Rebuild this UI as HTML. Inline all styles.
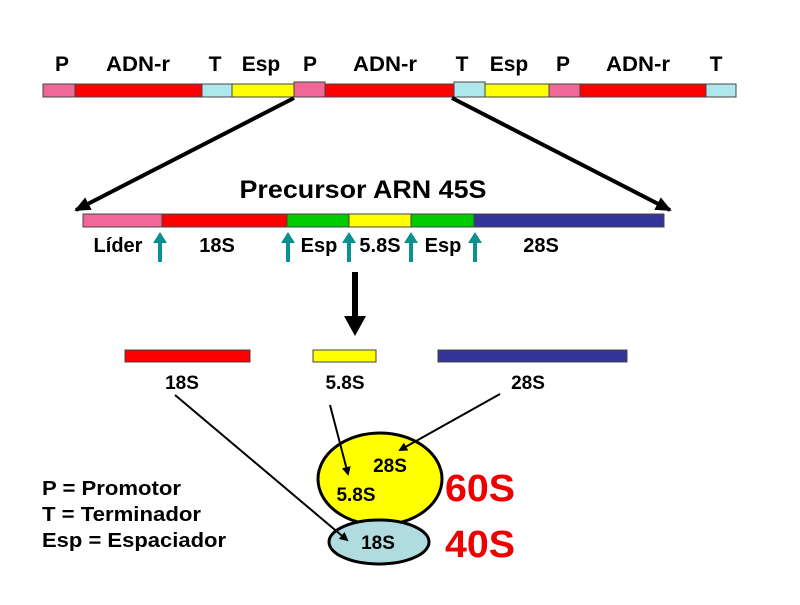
<!DOCTYPE html>
<html><head><style>body{margin:0;background:#fff}svg text{font-family:"Liberation Sans",Arial,sans-serif;font-weight:bold}</style></head><body>
<svg width="800" height="600" viewBox="0 0 800 600">
<defs><marker id="ah" markerWidth="9" markerHeight="9" refX="7" refY="4.5" orient="auto" markerUnits="userSpaceOnUse"><path d="M0,0 L9,4.5 L0,9 Z" fill="#000"/></marker>
<marker id="bh" markerWidth="16" markerHeight="14" refX="14" refY="7" orient="auto" markerUnits="userSpaceOnUse"><path d="M0,0 L16,7 L0,14 Z" fill="#000"/></marker></defs>
<g font-size="21" text-anchor="middle">
<text x="62" y="71">P</text><text x="138" y="71" textLength="64" lengthAdjust="spacingAndGlyphs">ADN-r</text><text x="215" y="71">T</text><text x="261" y="71">Esp</text>
<text x="310" y="71">P</text><text x="385" y="71" textLength="64" lengthAdjust="spacingAndGlyphs">ADN-r</text><text x="462" y="71">T</text><text x="509" y="71">Esp</text>
<text x="563" y="71">P</text><text x="638" y="71" textLength="64" lengthAdjust="spacingAndGlyphs">ADN-r</text><text x="716" y="71">T</text></g>
<g stroke="#444" stroke-width="1">
<rect x="43" y="84" width="32" height="13" fill="#f06898"/><rect x="75" y="84" width="127" height="13" fill="#f00"/><rect x="202" y="84" width="30" height="13" fill="#aee8ee"/><rect x="232" y="84" width="62" height="13" fill="#ff0"/>
<rect x="294" y="82" width="31" height="15" fill="#f06898"/><rect x="325" y="84" width="129" height="13" fill="#f00"/><rect x="454" y="82" width="31" height="15" fill="#aee8ee"/><rect x="485" y="84" width="64" height="13" fill="#ff0"/>
<rect x="549" y="84" width="31" height="13" fill="#f06898"/><rect x="580" y="84" width="126" height="13" fill="#f00"/><rect x="706" y="84" width="30" height="13" fill="#aee8ee"/></g>
<line x1="294" y1="98" x2="76" y2="210" stroke="#000" stroke-width="4" marker-end="url(#bh)"/>
<line x1="452" y1="98" x2="670" y2="210" stroke="#000" stroke-width="4" marker-end="url(#bh)"/>
<text x="363" y="198" font-size="25" text-anchor="middle" textLength="247" lengthAdjust="spacingAndGlyphs">Precursor ARN 45S</text>
<g stroke="#444" stroke-width="1">
<rect x="83" y="214" width="79" height="13" fill="#f06898"/><rect x="162" y="214" width="125" height="13" fill="#f00"/><rect x="287" y="214" width="62" height="13" fill="#0c0"/><rect x="349" y="214" width="62" height="13" fill="#ff0"/><rect x="411" y="214" width="63" height="13" fill="#0c0"/><rect x="474" y="214" width="190" height="13" fill="#333399"/></g>
<g fill="#0a9090">
<path d="M160,232 l-7,11 h5 v19 h4 v-19 h5z"/><path d="M288,232 l-7,11 h5 v19 h4 v-19 h5z"/><path d="M349,232 l-7,11 h5 v19 h4 v-19 h5z"/><path d="M411,232 l-7,11 h5 v19 h4 v-19 h5z"/><path d="M475,232 l-7,11 h5 v19 h4 v-19 h5z"/></g>
<g font-size="20" text-anchor="middle">
<text x="118" y="252">Líder</text><text x="217" y="252">18S</text><text x="319" y="252">Esp</text><text x="380" y="252">5.8S</text><text x="443" y="252">Esp</text><text x="541" y="252">28S</text></g>
<path d="M352,272 h6 v44 h8 l-11,20 l-11,-20 h8z" fill="#000"/>
<g stroke="#444" stroke-width="1"><rect x="125" y="350" width="125" height="12" fill="#f00"/><rect x="313" y="350" width="63" height="12" fill="#ff0"/><rect x="438" y="350" width="189" height="12" fill="#333399"/></g>
<g font-size="19" text-anchor="middle"><text x="182" y="389">18S</text><text x="345" y="389">5.8S</text><text x="528" y="389">28S</text></g>
<ellipse cx="380" cy="479" rx="62" ry="46" fill="#ff0" stroke="#000" stroke-width="3"/>
<ellipse cx="379" cy="542" rx="50" ry="22" fill="#b0dce0" stroke="#000" stroke-width="3"/>
<g font-size="19" text-anchor="middle"><text x="390" y="472">28S</text><text x="356" y="501">5.8S</text><text x="378" y="549">18S</text></g>
<g stroke="#000" stroke-width="2" marker-end="url(#ah)"><line x1="175" y1="395" x2="347" y2="540"/><line x1="330" y1="405" x2="348" y2="474"/><line x1="500" y1="394" x2="400" y2="450"/></g>
<g font-size="38" fill="#e00" text-anchor="start"><text x="445" y="501" textLength="70" lengthAdjust="spacingAndGlyphs">60S</text><text x="445" y="557" textLength="70" lengthAdjust="spacingAndGlyphs">40S</text></g>
<g font-size="20"><text x="42" y="495" textLength="139" lengthAdjust="spacingAndGlyphs">P = Promotor</text><text x="42" y="521" textLength="159" lengthAdjust="spacingAndGlyphs">T = Terminador</text><text x="42" y="547" textLength="184" lengthAdjust="spacingAndGlyphs">Esp = Espaciador</text></g>
</svg></body></html>
